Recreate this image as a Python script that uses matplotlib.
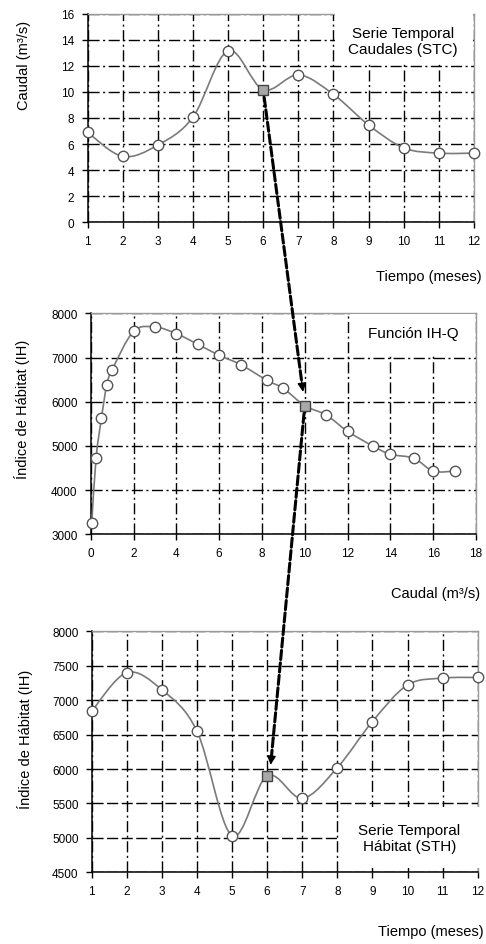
import matplotlib
matplotlib.use("Agg")
import matplotlib.pyplot as plt
from matplotlib.path import Path
from matplotlib.patches import PathPatch, Rectangle, FancyArrowPatch
import numpy as np

plt.rcParams['font.family'] = ['Liberation Sans', 'DejaVu Sans']

# ---- data ----
months = [1, 2, 3, 4, 5, 6, 7, 8, 9, 10, 11, 12]
caudal_stc = [6.9, 5.05, 5.92, 8.05, 13.15, 10.16, 11.3, 9.8, 7.46, 5.7, 5.3, 5.3]

ihq_caudal = [0.05, 0.25, 0.5, 0.75, 1.0, 2, 3, 4, 5, 6, 7, 8.25, 9, 10, 11, 12, 13.17, 14, 15.1, 16, 17]
ihq_ih = [3250, 4720, 5620, 6380, 6720, 7590, 7690, 7540, 7300, 7050, 6840, 6480, 6300, 5910,
          5700, 5330, 5000, 4810, 4720, 4430, 4430]

ih_sth = [6840, 7400, 7150, 6550, 5030, 5900, 5575, 6020, 6690, 7220, 7320, 7330]

sel_month = 6
sel_caudal = 10.16
sel_ihq_x = 10
sel_ihq_y = 5910
sel_ih = 5900

W, H = 486, 945
fig = plt.figure(figsize=(W / 100, H / 100), dpi=100)


def px_ax(l, r, t, b):
    return fig.add_axes([l / W, 1 - b / H, (r - l) / W, (b - t) / H])


ax1 = px_ax(87.5, 474, 14.5, 223.3)
ax2 = px_ax(90.7, 476, 314.3, 535.3)
ax3 = px_ax(91.7, 477.7, 632.3, 873.3)

LINE_C = '#7a7a7a'
MK_EDGE = '#555555'
DASHDOT = (0, (8, 2.5, 1.5, 2.5))
DASHED = (0, (8, 2.5))


def smooth_path(ax, xs, ys):
    xs = list(xs); ys = list(ys)
    n = len(xs)
    verts = [(xs[0], ys[0])]
    codes = [Path.MOVETO]
    for i in range(n - 1):
        x0, y0 = (xs[i - 1], ys[i - 1]) if i > 0 else (xs[i], ys[i])
        x1, y1 = xs[i], ys[i]
        x2, y2 = xs[i + 1], ys[i + 1]
        x3, y3 = (xs[i + 2], ys[i + 2]) if i + 2 < n else (x2, y2)
        c1 = (x1 + (x2 - x0) / 6, y1 + (y2 - y0) / 6)
        c2 = (x2 - (x3 - x1) / 6, y2 - (y3 - y1) / 6)
        verts += [c1, c2, (x2, y2)]
        codes += [Path.CURVE4] * 3
    patch = PathPatch(Path(verts, codes), facecolor='none', edgecolor=LINE_C,
                      lw=1.2, zorder=4, transform=ax.transData)
    ax.add_patch(patch)


def style(ax, xlim, ylim, xt, yt, hgrid_ls):
    ax.set_xlim(*xlim)
    ax.set_ylim(*ylim)
    ax.set_xticks(xt)
    ax.set_yticks(yt)
    ax.set_axisbelow(True)
    for x in xt:
        ax.axvline(x, color='black', lw=1.0, ls=DASHDOT, zorder=0.5)
    for y in yt:
        ax.axhline(y, color='black', lw=1.0, ls=hgrid_ls, zorder=0.5)
    for s in ['left', 'bottom']:
        ax.spines[s].set_color('black')
        ax.spines[s].set_linewidth(1.1)
    for s in ['top', 'right']:
        ax.spines[s].set_color('#9a9a9a')
        ax.spines[s].set_linewidth(1.0)
    ax.tick_params(direction='out', length=4, width=1.0, labelsize=8.5, pad=5.5, colors='black')


# ---- top panel ----
style(ax1, (1, 12), (0, 16), months, list(range(0, 17, 2)), DASHDOT)
ax1.add_patch(Rectangle((8.05, 12.2), 3.92, 3.85, facecolor='white', edgecolor='none',
                        zorder=3, clip_on=False))
ax1.text(9.98, 13.9, 'Serie Temporal\nCaudales (STC)', ha='center', va='center',
         fontsize=11, zorder=5, linespacing=1.15)
smooth_path(ax1, months, caudal_stc)
ax1.plot([m for m in months if m != sel_month], [v for m, v in zip(months, caudal_stc) if m != sel_month],
         'o', ms=7.5, mfc='white', mec=MK_EDGE, mew=1.0, zorder=6, clip_on=False)
ax1.plot([sel_month], [sel_caudal], 's', ms=7.5, mfc='#a8a8a8', mec='#444444', mew=1.0, zorder=6)

# ---- middle panel ----
style(ax2, (0, 18), (3000, 8000), list(range(0, 19, 2)), list(range(3000, 8001, 1000)), DASHDOT)
ax2.add_patch(Rectangle((12.1, 7060), 5.85, 935, facecolor='white', edgecolor='none', zorder=3))
ax2.text(15.05, 7560, 'Función IH-Q', ha='center', va='center', fontsize=11, zorder=5)
smooth_path(ax2, ihq_caudal, ihq_ih)
mask = [not (x == sel_ihq_x and y == sel_ihq_y) for x, y in zip(ihq_caudal, ihq_ih)]
ax2.plot([x for x, k in zip(ihq_caudal, mask) if k], [y for y, k in zip(ihq_ih, mask) if k],
         'o', ms=7.5, mfc='white', mec=MK_EDGE, mew=1.0, zorder=6, clip_on=False)
ax2.plot([sel_ihq_x], [sel_ihq_y], 's', ms=7.5, mfc='#a8a8a8', mec='#444444', mew=1.0, zorder=6)

# ---- bottom panel ----
style(ax3, (1, 12), (4500, 8000), months, list(range(4500, 8001, 500)), DASHED)
ax3.add_patch(Rectangle((8.05, 4560), 4.2, 890, facecolor='white', edgecolor='none',
                        zorder=3, clip_on=False))
ax3.text(10.05, 5000, 'Serie Temporal\nHábitat (STH)', ha='center', va='center',
         fontsize=11, zorder=5, linespacing=1.15)
smooth_path(ax3, months, ih_sth)
ax3.plot([m for m in months if m != sel_month], [v for m, v in zip(months, ih_sth) if m != sel_month],
         'o', ms=7.5, mfc='white', mec=MK_EDGE, mew=1.0, zorder=6, clip_on=False)
ax3.plot([sel_month], [sel_ih], 's', ms=7.5, mfc='#a8a8a8', mec='#444444', mew=1.0, zorder=6)

# ---- axis labels ----
fig.text(24 / W, 1 - 65 / H, 'Caudal (m³/s)', rotation=90, ha='center', va='center', fontsize=10.5)
fig.text(22 / W, 1 - 409 / H, 'Índice de Hábitat (IH)', rotation=90, ha='center', va='center', fontsize=10.5)
fig.text(25 / W, 1 - 739 / H, 'Índice de Hábitat (IH)', rotation=90, ha='center', va='center', fontsize=10.5)
fig.text(482 / W, 1 - 277 / H, 'Tiempo (meses)', ha='right', va='center', fontsize=10.5)
fig.text(480 / W, 1 - 594 / H, 'Caudal (m³/s)', ha='right', va='center', fontsize=10.5)
fig.text(484 / W, 1 - 932 / H, 'Tiempo (meses)', ha='right', va='center', fontsize=10.5)


# ---- connecting arrows ----
def dashed_arrow(axA, ptA, axB, ptB):
    a = axA.transData.transform(ptA)
    b = axB.transData.transform(ptB)
    d = b - a
    u = d / np.hypot(*d)
    head_len = 11
    b_shaft = b - u * head_len * 0.6
    inv = fig.transFigure.inverted()
    A, Bs, B = inv.transform(a + u * 5), inv.transform(b_shaft), inv.transform(b)
    Bh = inv.transform(b - u * head_len)
    shaft = FancyArrowPatch(A, Bs, transform=fig.transFigure, arrowstyle='-',
                            linestyle=(0, (3, 1.1)), lw=2.2, color='black', zorder=10)
    head = FancyArrowPatch(Bh, B, transform=fig.transFigure, arrowstyle='-|>',
                           mutation_scale=13, lw=1.0, color='black', zorder=10,
                           shrinkA=0, shrinkB=0)
    fig.add_artist(shaft)
    fig.add_artist(head)


dashed_arrow(ax1, (sel_month, sel_caudal), ax2, (9.92, 6220))
dashed_arrow(ax2, (sel_ihq_x, sel_ihq_y), ax3, (6.1, 6060))

fig.savefig('out.png', dpi=100)
